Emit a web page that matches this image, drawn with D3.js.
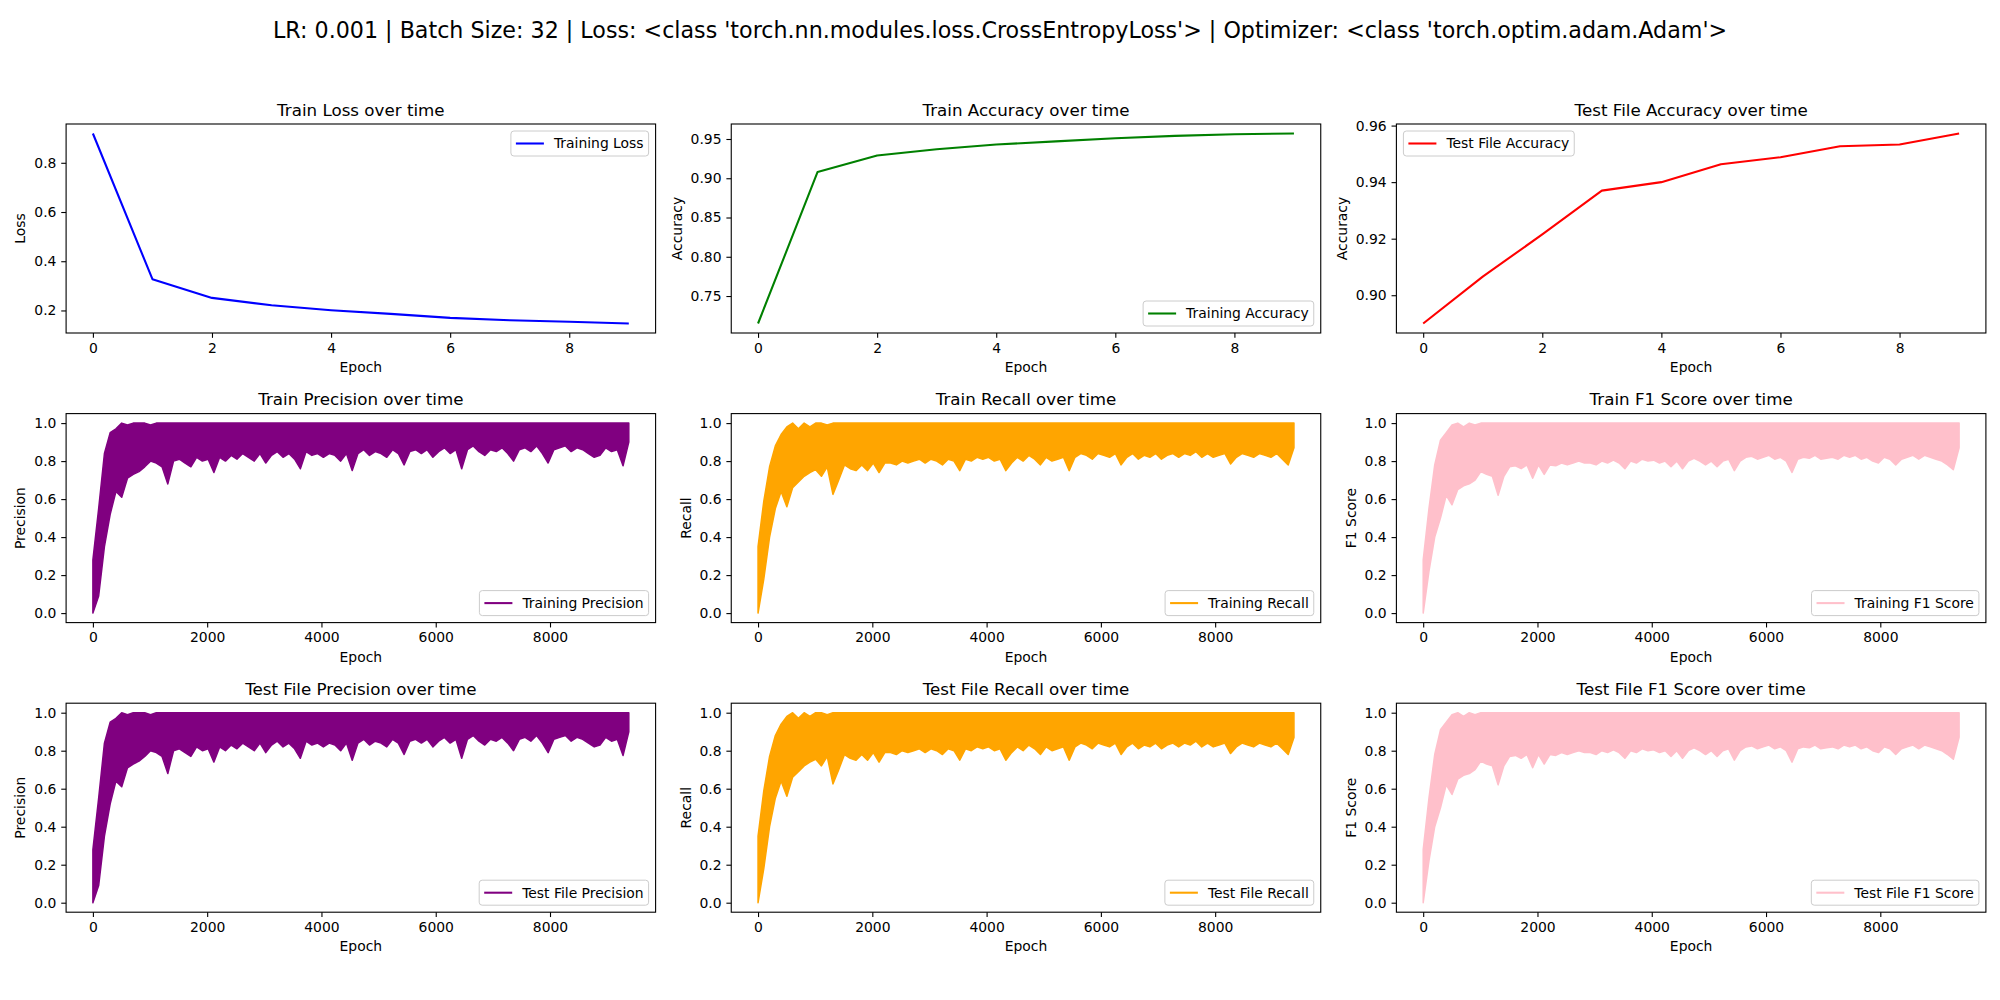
<!DOCTYPE html>
<html>
<head>
<meta charset="utf-8">
<script src="https://cdn.jsdelivr.net/npm/d3@7"></script>
<style>
  html, body { margin: 0; padding: 0; background: #fff; }
  svg { display: block; font-family: "DejaVu Sans", sans-serif; }
</style>
</head>
<body>
<svg id="chart" width="2000" height="1000"></svg>
<script>
// ---- data ----
const suptitle = "LR: 0.001 | Batch Size: 32 | Loss: <class 'torch.nn.modules.loss.CrossEntropyLoss'> | Optimizer: <class 'torch.optim.adam.Adam'>";

const epochs = [0, 1, 2, 3, 4, 5, 6, 7, 8, 9];
const trainLoss = [0.919, 0.327, 0.251, 0.221, 0.201, 0.186, 0.170, 0.160, 0.154, 0.147];
const trainAccuracy = [0.715, 0.908, 0.929, 0.937, 0.943, 0.947, 0.951, 0.954, 0.956, 0.957];
const testAccuracy = [0.890, 0.9066, 0.9215, 0.937, 0.940, 0.9463, 0.9488, 0.9527, 0.9533, 0.9572];

// per-batch metrics: 9380 batches, read as the low/high envelope every ~100 batches
const numBatches = 9380;

const precisionLow = [
  0.00, 0.09, 0.35, 0.52, 0.64, 0.61, 0.71, 0.73, 0.745, 0.77,
  0.80, 0.79, 0.77, 0.68, 0.80, 0.81, 0.79, 0.77, 0.82, 0.80,
  0.81, 0.74, 0.82, 0.80, 0.83, 0.81, 0.84, 0.82, 0.80, 0.84,
  0.79, 0.83, 0.85, 0.82, 0.84, 0.81, 0.76, 0.85, 0.83, 0.84,
  0.82, 0.84, 0.83, 0.80, 0.84, 0.75, 0.84, 0.86, 0.83, 0.85,
  0.84, 0.82, 0.86, 0.84, 0.78, 0.85, 0.86, 0.84, 0.86, 0.82,
  0.85, 0.87, 0.84, 0.86, 0.76, 0.86, 0.88, 0.85, 0.83, 0.86,
  0.85, 0.87, 0.84, 0.80, 0.86, 0.87, 0.85, 0.88, 0.84, 0.79,
  0.86, 0.87, 0.88, 0.85, 0.87, 0.86, 0.84, 0.82, 0.83, 0.87,
  0.85, 0.86, 0.775, 0.90
];
const precisionHigh = [
  0.28, 0.55, 0.84, 0.95, 0.97, 1.00, 0.99, 1.00, 1.00, 1.00,
  0.99, 1.00, 1.00, 1.00, 1.00, 1.00, 1.00, 1.00, 1.00, 1.00,
  1.00, 1.00, 1.00, 1.00, 1.00, 1.00, 1.00, 1.00, 1.00, 1.00,
  1.00, 1.00, 1.00, 1.00, 1.00, 1.00, 1.00, 1.00, 1.00, 1.00,
  1.00, 1.00, 1.00, 1.00, 1.00, 1.00, 1.00, 1.00, 1.00, 1.00,
  1.00, 1.00, 1.00, 1.00, 1.00, 1.00, 1.00, 1.00, 1.00, 1.00,
  1.00, 1.00, 1.00, 1.00, 1.00, 1.00, 1.00, 1.00, 1.00, 1.00,
  1.00, 1.00, 1.00, 1.00, 1.00, 1.00, 1.00, 1.00, 1.00, 1.00,
  1.00, 1.00, 1.00, 1.00, 1.00, 1.00, 1.00, 1.00, 1.00, 1.00,
  1.00, 1.00, 1.00, 1.00
];

const recallLow = [
  0.00, 0.18, 0.40, 0.55, 0.64, 0.56, 0.66, 0.69, 0.72, 0.74,
  0.755, 0.72, 0.77, 0.625, 0.70, 0.78, 0.76, 0.75, 0.78, 0.75,
  0.79, 0.74, 0.79, 0.79, 0.78, 0.80, 0.79, 0.80, 0.81, 0.79,
  0.81, 0.80, 0.78, 0.81, 0.80, 0.75, 0.81, 0.80, 0.82, 0.81,
  0.82, 0.80, 0.81, 0.75, 0.79, 0.82, 0.80, 0.83, 0.81, 0.78,
  0.82, 0.80, 0.81, 0.82, 0.75, 0.82, 0.84, 0.83, 0.81, 0.84,
  0.83, 0.82, 0.84, 0.78, 0.82, 0.84, 0.81, 0.83, 0.82, 0.84,
  0.81, 0.83, 0.84, 0.82, 0.84, 0.83, 0.85, 0.82, 0.84, 0.82,
  0.83, 0.84, 0.785, 0.82, 0.84, 0.83, 0.82, 0.84, 0.83, 0.82,
  0.84, 0.81, 0.78, 0.87
];
const recallHigh = [
  0.35, 0.59, 0.77, 0.88, 0.94, 0.98, 1.00, 0.97, 1.00, 0.98,
  1.00, 1.00, 0.99, 1.00, 1.00, 1.00, 1.00, 1.00, 1.00, 1.00,
  1.00, 1.00, 1.00, 1.00, 1.00, 1.00, 1.00, 1.00, 1.00, 1.00,
  1.00, 1.00, 1.00, 1.00, 1.00, 1.00, 1.00, 1.00, 1.00, 1.00,
  1.00, 1.00, 1.00, 1.00, 1.00, 1.00, 1.00, 1.00, 1.00, 1.00,
  1.00, 1.00, 1.00, 1.00, 1.00, 1.00, 1.00, 1.00, 1.00, 1.00,
  1.00, 1.00, 1.00, 1.00, 1.00, 1.00, 1.00, 1.00, 1.00, 1.00,
  1.00, 1.00, 1.00, 1.00, 1.00, 1.00, 1.00, 1.00, 1.00, 1.00,
  1.00, 1.00, 1.00, 1.00, 1.00, 1.00, 1.00, 1.00, 1.00, 1.00,
  1.00, 1.00, 1.00, 1.00
];

const f1Low = [
  0.00, 0.22, 0.40, 0.50, 0.62, 0.57, 0.65, 0.67, 0.68, 0.70,
  0.745, 0.73, 0.72, 0.62, 0.72, 0.77, 0.775, 0.76, 0.78, 0.71,
  0.78, 0.73, 0.78, 0.775, 0.79, 0.78, 0.79, 0.80, 0.79, 0.79,
  0.78, 0.80, 0.79, 0.805, 0.79, 0.76, 0.80, 0.79, 0.81, 0.80,
  0.805, 0.79, 0.80, 0.77, 0.80, 0.76, 0.80, 0.815, 0.80, 0.78,
  0.80, 0.77, 0.80, 0.81, 0.75, 0.80, 0.82, 0.825, 0.81, 0.82,
  0.83, 0.81, 0.82, 0.80, 0.74, 0.81, 0.82, 0.815, 0.83, 0.81,
  0.815, 0.82, 0.81, 0.83, 0.82, 0.83, 0.81, 0.82, 0.80, 0.79,
  0.82, 0.81, 0.78, 0.81, 0.82, 0.83, 0.81, 0.83, 0.82, 0.81,
  0.80, 0.78, 0.755, 0.87
];
const f1High = [
  0.28, 0.55, 0.78, 0.91, 0.95, 0.99, 1.00, 0.98, 1.00, 0.99,
  1.00, 1.00, 1.00, 1.00, 1.00, 1.00, 1.00, 1.00, 1.00, 1.00,
  1.00, 1.00, 1.00, 1.00, 1.00, 1.00, 1.00, 1.00, 1.00, 1.00,
  1.00, 1.00, 1.00, 1.00, 1.00, 1.00, 1.00, 1.00, 1.00, 1.00,
  1.00, 1.00, 1.00, 1.00, 1.00, 1.00, 1.00, 1.00, 1.00, 1.00,
  1.00, 1.00, 1.00, 1.00, 1.00, 1.00, 1.00, 1.00, 1.00, 1.00,
  1.00, 1.00, 1.00, 1.00, 1.00, 1.00, 1.00, 1.00, 1.00, 1.00,
  1.00, 1.00, 1.00, 1.00, 1.00, 1.00, 1.00, 1.00, 1.00, 1.00,
  1.00, 1.00, 1.00, 1.00, 1.00, 1.00, 1.00, 1.00, 1.00, 1.00,
  1.00, 1.00, 1.00, 1.00
];

const panelTitles = [
  "Train Loss over time", "Train Accuracy over time", "Test File Accuracy over time",
  "Train Precision over time", "Train Recall over time", "Train F1 Score over time",
  "Test File Precision over time", "Test File Recall over time", "Test File F1 Score over time"
];
const yLabels = ["Loss", "Accuracy", "Accuracy", "Precision", "Recall", "F1 Score", "Precision", "Recall", "F1 Score"];
const legendLabels = [
  "Training Loss", "Training Accuracy", "Test File Accuracy",
  "Training Precision", "Training Recall", "Training F1 Score",
  "Test File Precision", "Test File Recall", "Test File F1 Score"
];
const lineColors = ["blue", "green", "red", "purple", "orange", "pink", "purple", "orange", "pink"];
const legendLocs = ["upper right", "lower right", "upper left",
  "lower right", "lower right", "lower right", "lower right", "lower right", "lower right"];

// ---- layout (matplotlib 20x10 in @100dpi look) ----
const svg = d3.select("#chart");
const axLeft0 = 66.1, colStep = 665.15, axTop0 = 124, rowStep = 289.6;
const axW = 589.5, axH = 209;
const fs = 13.9;     // 10pt
const tickLen = 4.86, tickPad = 4.86;

// train and test panels show the same per-batch curves in the reference
const batchLow = [null, null, null, precisionLow, recallLow, f1Low, precisionLow, recallLow, f1Low];
const batchHigh = [null, null, null, precisionHigh, recallHigh, f1High, precisionHigh, recallHigh, f1High];
const epochSeries = [trainLoss, trainAccuracy, testAccuracy];

svg.append("text")
  .attr("x", 1000)
  .attr("y", 38)
  .attr("text-anchor", "middle")
  .attr("font-size", 22.2)
  .text(suptitle);

function drawPanel(idx) {
  let row = Math.floor(idx / 3);
  let col = idx % 3;
  let left = axLeft0 + col * colStep;
  let top = axTop0 + row * rowStep;
  let perEpoch = idx < 3;

  let xs, xDom, yDom;
  if (perEpoch) {
    let values = epochSeries[idx];
    xs = epochs;
    let pad = (d3.max(values) - d3.min(values)) * 0.05;
    yDom = [d3.min(values) - pad, d3.max(values) + pad];
    xDom = [-0.45, 9.45];
  } else {
    let low = batchLow[idx];
    xs = low.map((d, k) => k * (numBatches - 1) / (low.length - 1));
    yDom = [-0.05, 1.05];
    xDom = [-0.05 * (numBatches - 1), 1.05 * (numBatches - 1)];
  }

  let x = d3.scaleLinear().domain(xDom).range([0, axW]);
  let y = d3.scaleLinear().domain(yDom).range([axH, 0]);

  let g = svg.append("g").attr("transform", `translate(${left},${top})`);

  if (perEpoch) {
    let line = d3.line()
      .x((d, k) => x(xs[k]))
      .y(d => y(d));
    g.append("path")
      .datum(epochSeries[idx])
      .attr("d", line)
      .attr("fill", "none")
      .attr("stroke", lineColors[idx])
      .attr("stroke-width", 2.08)
      .attr("stroke-linejoin", "round");
  } else {
    // dense per-batch line drawn as the band it fills
    let low = batchLow[idx], high = batchHigh[idx];
    let band = d3.area()
      .x((d, k) => x(xs[k]))
      .y0((d, k) => y(low[k]))
      .y1((d, k) => y(high[k]));
    g.append("path")
      .datum(low)
      .attr("d", band)
      .attr("fill", lineColors[idx])
      .attr("stroke", lineColors[idx])
      .attr("stroke-width", 1.5)
      .attr("stroke-linejoin", "round");
  }

  // axes
  let xAxis = d3.axisBottom(x).ticks(5).tickSize(tickLen).tickPadding(tickPad).tickSizeOuter(0)
    .tickFormat(d3.format("d"));
  let yAxis = d3.axisLeft(y).ticks(5).tickSize(tickLen).tickPadding(tickPad).tickSizeOuter(0)
    .tickFormat(y.tickFormat(5));

  let gx = g.append("g").attr("transform", `translate(0,${axH})`).call(xAxis);
  let gy = g.append("g").call(yAxis);
  [gx, gy].forEach(a => {
    a.attr("font-family", null).attr("font-size", fs);
    a.select(".domain").remove();
    a.selectAll(".tick line").attr("stroke", "#000").attr("stroke-width", 1.1);
    a.selectAll(".tick text").attr("fill", "#000");
  });

  // spines
  g.append("rect")
    .attr("width", axW)
    .attr("height", axH)
    .attr("fill", "none")
    .attr("stroke", "#000")
    .attr("stroke-width", 1.1);

  // title and labels
  g.append("text")
    .attr("x", axW / 2)
    .attr("y", -8.3)
    .attr("text-anchor", "middle")
    .attr("font-size", 16.7)
    .text(panelTitles[idx]);

  g.append("text")
    .attr("x", axW / 2)
    .attr("y", axH + 39)
    .attr("text-anchor", "middle")
    .attr("font-size", fs)
    .text("Epoch");

  let tickBox = gy.node().getBBox();
  let ylx = tickBox.x - 8.9;
  g.append("text")
    .attr("transform", `translate(${ylx},${axH / 2}) rotate(-90)`)
    .attr("text-anchor", "middle")
    .attr("font-size", fs)
    .text(yLabels[idx]);

  // legend
  let lg = g.append("g");
  let lbl = lg.append("text")
    .attr("font-size", fs)
    .text(legendLabels[idx]);
  let textW = lbl.node().getComputedTextLength();
  let boxW = 5 + 28 + 10 + textW + 5;
  let boxH = 25;
  let bx, by;
  let loc = legendLocs[idx];
  if (loc === "upper right") { bx = axW - 7 - boxW; by = 7; }
  else if (loc === "upper left") { bx = 7; by = 7; }
  else { bx = axW - 7 - boxW; by = axH - 7 - boxH; }
  lg.attr("transform", `translate(${bx},${by})`);
  lg.insert("rect", "text")
    .attr("width", boxW)
    .attr("height", boxH)
    .attr("rx", 3)
    .attr("fill", "#fff")
    .attr("fill-opacity", 0.8)
    .attr("stroke", "#cccccc")
    .attr("stroke-width", 1);
  lg.append("line")
    .attr("x1", 5).attr("x2", 33)
    .attr("y1", boxH / 2).attr("y2", boxH / 2)
    .attr("stroke", lineColors[idx])
    .attr("stroke-width", 2.08);
  lbl.attr("x", 43).attr("y", boxH / 2 + 4.9);
}

for (let i = 0; i < 9; i++) drawPanel(i);
</script>
</body>
</html>
